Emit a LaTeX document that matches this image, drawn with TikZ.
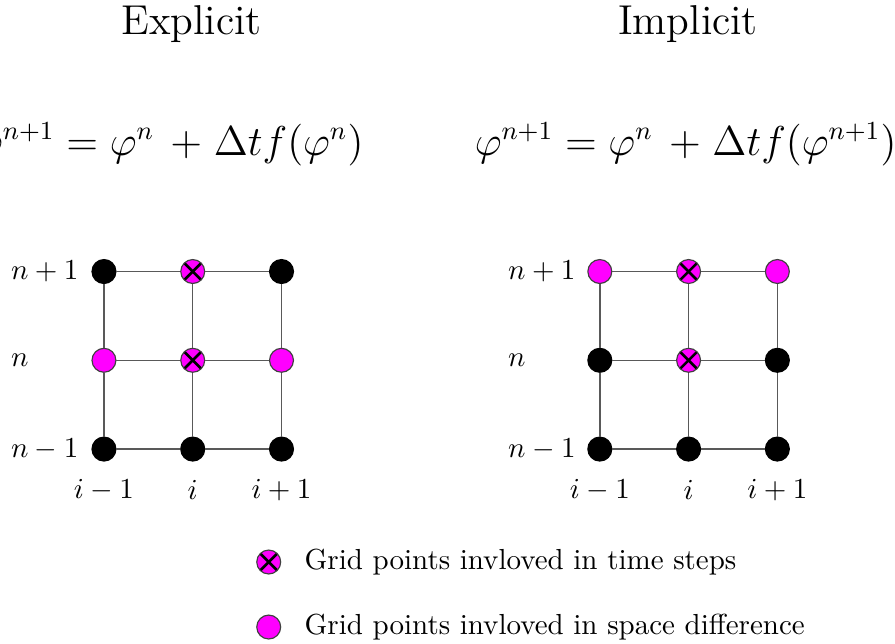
\documentclass[tikz,border=0pt]{standalone}
\usepackage{amsmath}
\usepackage{tikz}
\usetikzlibrary{positioning}
\definecolor{ptmag}{RGB}{255,0,255}

\begin{document}
\begin{tikzpicture}
  \tikzstyle{blackpt}=[circle,draw=black,fill=black,minimum size=0.29cm,inner sep=0pt]
  \tikzstyle{spacept}=[circle,draw=black!75,fill=ptmag,minimum size=0.29cm,inner sep=0pt]
  \tikzstyle{timept}=[spacept,path picture={
      \draw[black,line width=0.9pt] (path picture bounding box.north west) -- (path picture bounding box.south east);
      \draw[black,line width=0.9pt] (path picture bounding box.north east) -- (path picture bounding box.south west);}]
  \tikzstyle{gridline}=[draw=black!65,line width=0.5pt]
  \tikzstyle{scheme}=[font=\fontsize{13.5}{16}\selectfont]
  \useasboundingbox (0,0) rectangle (10.848,-7.794);

  % titles and schemes
  \node[anchor=base] (Etitle) at (2.321,-0.424) {\Large Explicit};
  \node[anchor=base] (Ititle) at (8.339,-0.424) {\Large Implicit};
  \node[scheme,anchor=base east] (Eeq) at (4.53,-1.879)
    {$\varphi^{n+1} = \varphi^n \mkern3mu + \mkern1mu \Delta t f(\varphi^n)$};
  \node[scheme,anchor=base] (Ieq) at (8.31,-1.879)
    {$\varphi^{n+1} = \varphi^n \mkern3mu + \mkern1mu \Delta t f(\varphi^{n+1})$};

  % explicit grid
  \node[blackpt] (E-0-2) at (1.26,-3.291)  {};
  \node[timept]  (E-1-2) at (2.336,-3.291) {};
  \node[blackpt] (E-2-2) at (3.412,-3.291) {};
  \node[spacept] (E-0-1) at (1.26,-4.367)  {};
  \node[timept]  (E-1-1) at (2.336,-4.367) {};
  \node[spacept] (E-2-1) at (3.412,-4.367) {};
  \node[blackpt] (E-0-0) at (1.26,-5.443)  {};
  \node[blackpt] (E-1-0) at (2.336,-5.443) {};
  \node[blackpt] (E-2-0) at (3.412,-5.443) {};

  % implicit grid
  \node[spacept] (I-0-2) at (7.27,-3.291)  {};
  \node[timept]  (I-1-2) at (8.346,-3.291) {};
  \node[spacept] (I-2-2) at (9.422,-3.291) {};
  \node[blackpt] (I-0-1) at (7.27,-4.367)  {};
  \node[timept]  (I-1-1) at (8.346,-4.367) {};
  \node[blackpt] (I-2-1) at (9.422,-4.367) {};
  \node[blackpt] (I-0-0) at (7.27,-5.443)  {};
  \node[blackpt] (I-1-0) at (8.346,-5.443) {};
  \node[blackpt] (I-2-0) at (9.422,-5.443) {};

  \foreach \g in {E,I} {
    \foreach \k in {0,1,2} {
      \draw[gridline] (\g-0-\k) -- (\g-1-\k) -- (\g-2-\k);
      \draw[gridline] (\g-\k-0) -- (\g-\k-1) -- (\g-\k-2);
    }
  }

  % axis labels
  \node[anchor=west] (Enp) at (0.01,-3.291) {$n+1$};
  \node[anchor=west] (En)  at (0.01,-4.367) {$n$};
  \node[anchor=west] (Enm) at (0.01,-5.443) {$n-1$};
  \node[anchor=west] (Inp) at (6.035,-3.291) {$n+1$};
  \node[anchor=west] (In)  at (6.035,-4.367) {$n$};
  \node[anchor=west] (Inm) at (6.035,-5.443) {$n-1$};
  \node (Eim) at (1.26,-5.94)  {$i-1$};
  \node (Ei)  at (2.336,-5.94) {$i$};
  \node (Eip) at (3.412,-5.94) {$i+1$};
  \node (Iim) at (7.27,-5.94)  {$i-1$};
  \node (Ii)  at (8.346,-5.94) {$i$};
  \node (Iip) at (9.422,-5.94) {$i+1$};

  % legend
  \node[timept]  (Ltime)  at (3.257,-6.812) {};
  \node[spacept] (Lspace) at (3.257,-7.6)   {};
  \node[right=0.16cm of Ltime]  (Ltimetxt)  {Grid points invloved in time steps};
  \node[right=0.16cm of Lspace] (Lspacetxt) {Grid points invloved in space difference};
\end{tikzpicture}
\end{document}
